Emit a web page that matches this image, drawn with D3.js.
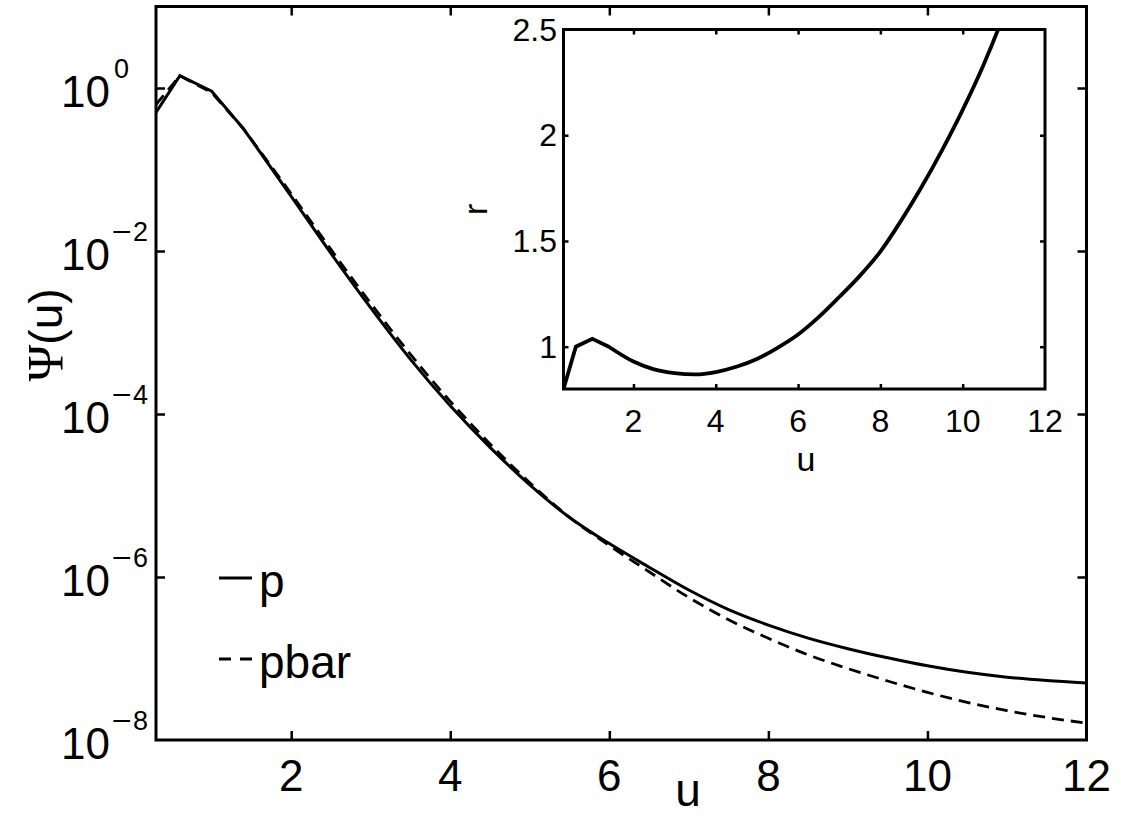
<!DOCTYPE html>
<html>
<head>
<meta charset="utf-8">
<script src="https://cdn.jsdelivr.net/npm/d3@7"></script>
<style>
  html, body { margin: 0; padding: 0; background: #fff; }
  svg { display: block; }
  text { font-family: "Liberation Sans", Arial, Helvetica, sans-serif; fill: #000; }
</style>
</head>
<body>
<svg id="chart" width="1121" height="823"></svg>
<script>
// ---- data ----
const uValues    = [0.3, 0.6, 1.0, 1.4, 2.0, 2.5, 3.0, 3.5, 4.0, 4.5, 5.0, 5.5, 6.0, 6.5, 7.0, 7.5, 8.0, 8.5, 9.0, 9.5, 10.0, 10.5, 11.0, 11.5, 12.0];
const pValues    = [0.501, 1.413, 0.912, 0.316, 0.0468, 9.33e-3, 2.00e-3, 4.68e-4, 1.26e-4, 3.89e-5, 1.35e-5, 5.37e-6, 2.57e-6, 1.32e-6, 6.92e-7, 3.98e-7, 2.57e-7, 1.78e-7, 1.32e-7, 1.02e-7, 8.13e-8, 6.76e-8, 5.89e-8, 5.37e-8, 5.01e-8];
const pbarValues = [0.627, 1.413, 0.879, 0.316, 0.0504, 1.045e-2, 2.28e-3, 5.38e-4, 1.43e-4, 4.30e-5, 1.43e-5, 5.40e-6, 2.43e-6, 1.16e-6, 5.60e-7, 2.99e-7, 1.77e-7, 1.11e-7, 7.52e-8, 5.30e-8, 3.84e-8, 2.90e-8, 2.29e-8, 1.89e-8, 1.61e-8];
const rValues    = [0.80, 1.00, 1.037, 1.00, 0.93, 0.893, 0.875, 0.869, 0.88, 0.905, 0.942, 0.995, 1.058, 1.14, 1.235, 1.335, 1.45, 1.595, 1.755, 1.93, 2.12, 2.33, 2.57, 2.84, 3.12];

const mainXTicks = [2, 4, 6, 8, 10, 12];
const mainYTickExps = [0, -2, -4, -6, -8];
const insetXTicks = [2, 4, 6, 8, 10, 12];
const insetYTicks = [1, 1.5, 2, 2.5];
const legendLabels = ["p", "pbar"];

// ---- layout ----
const svg = d3.select("#chart");
const M = { left: 156, right: 1086.5, top: 6.5, bottom: 740 };
const I = { left: 563.5, right: 1045, top: 29.5, bottom: 389 };

const x = d3.scaleLinear().domain([0.3, 12]).range([M.left, M.right]);
const y = d3.scaleLog().domain([1e-8, 10]).range([M.bottom, M.top]);
const xi = d3.scaleLinear().domain([0.3, 12]).range([I.left, I.right]);
const yi = d3.scaleLinear().domain([0.8, 2.5]).range([I.bottom, I.top]);

const defs = svg.append("defs");
defs.append("clipPath").attr("id", "clipMain").append("rect")
  .attr("x", M.left).attr("y", M.top).attr("width", M.right - M.left).attr("height", M.bottom - M.top);
defs.append("clipPath").attr("id", "clipInset").append("rect")
  .attr("x", I.left).attr("y", I.top).attr("width", I.right - I.left).attr("height", I.bottom - I.top);

const pData = uValues.map((u, i) => [u, pValues[i]]);
const pbarData = uValues.map((u, i) => [u, pbarValues[i]]);
const rData = uValues.map((u, i) => [u, rValues[i]]);

// first few samples are joined by straight segments, the smooth tail by a monotone curve
const SPLIT = 3;
function pathD(data, sx, sy) {
  const lin = d3.line().x(d => sx(d[0])).y(d => sy(d[1]));
  const smooth = d3.line().x(d => sx(d[0])).y(d => sy(d[1])).curve(d3.curveMonotoneX);
  const head = lin(data.slice(0, SPLIT + 1));
  const tail = smooth(data.slice(SPLIT));
  return head + "L" + tail.slice(1);
}

// ---- main axes ----
const gMain = svg.append("g");
const gLines = gMain.append("g").attr("clip-path", "url(#clipMain)");
gLines.append("path").attr("d", pathD(pbarData, x, y))
  .attr("fill", "none").attr("stroke", "#000").attr("stroke-width", 2.8)
  .attr("stroke-dasharray", "12,7");
gLines.append("path").attr("d", pathD(pData, x, y))
  .attr("fill", "none").attr("stroke", "#000").attr("stroke-width", 3)
  .attr("stroke-linejoin", "miter");

function styleAxis(g) {
  g.select(".domain").remove();
  g.selectAll(".tick line").attr("stroke", "#000").attr("stroke-width", 2.5);
  g.selectAll(".tick text").remove();
}
gMain.append("g").attr("transform", `translate(0,${M.bottom})`)
  .call(d3.axisBottom(x).tickValues(mainXTicks.slice(0, -1)).tickSizeInner(-9).tickSizeOuter(0)).call(styleAxis);
gMain.append("g").attr("transform", `translate(0,${M.top})`)
  .call(d3.axisTop(x).tickValues(mainXTicks.slice(0, -1)).tickSizeInner(-9).tickSizeOuter(0)).call(styleAxis);
const yTickVals = mainYTickExps.map(e => Math.pow(10, e));
gMain.append("g").attr("transform", `translate(${M.left},0)`)
  .call(d3.axisLeft(y).tickValues(yTickVals.slice(0, -1)).tickSizeInner(-9).tickSizeOuter(0)).call(styleAxis);
gMain.append("g").attr("transform", `translate(${M.right},0)`)
  .call(d3.axisRight(y).tickValues(yTickVals.slice(0, -1)).tickSizeInner(-9).tickSizeOuter(0)).call(styleAxis);

gMain.append("rect").attr("x", M.left).attr("y", M.top)
  .attr("width", M.right - M.left).attr("height", M.bottom - M.top)
  .attr("fill", "none").attr("stroke", "#000").attr("stroke-width", 3);

gMain.selectAll("text.xt").data(mainXTicks).join("text").attr("class", "xt")
  .attr("x", d => x(d)).attr("y", 791).attr("text-anchor", "middle")
  .attr("font-size", 44).text(d => d);

mainYTickExps.forEach(e => {
  const ty = y(Math.pow(10, e));
  gMain.append("text").attr("x", 110).attr("y", ty + 19).attr("text-anchor", "end")
    .attr("font-size", 44).text("10");
  if (e === 0) {
    gMain.append("text").attr("x", 114).attr("y", ty - 10).attr("font-size", 27).text("0");
  } else {
    gMain.append("text").attr("x", 112).attr("y", ty - 10).attr("font-size", 27)
      .attr("textLength", 20).attr("lengthAdjust", "spacingAndGlyphs").text("\u2212");
    gMain.append("text").attr("x", 133).attr("y", ty - 10).attr("font-size", 27).text(String(-e));
  }
});

gMain.append("text").attr("x", 688).attr("y", 806).attr("text-anchor", "middle")
  .attr("font-size", 46).text("u");
const yl = gMain.append("text").attr("transform", "translate(62,335) rotate(-90)")
  .attr("text-anchor", "middle").attr("font-size", 46);
yl.append("tspan").attr("font-family", "'Liberation Serif', 'DejaVu Serif', serif").attr("font-size", 50).text("\u03A8");
yl.append("tspan").text("(u)");

// legend
const legY = [578, 659];
const legG = gMain.append("g");
legG.append("line").attr("x1", 219).attr("x2", 252).attr("y1", legY[0]).attr("y2", legY[0])
  .attr("stroke", "#000").attr("stroke-width", 3);
legG.append("line").attr("x1", 219).attr("x2", 253).attr("y1", legY[1]).attr("y2", legY[1])
  .attr("stroke", "#000").attr("stroke-width", 3).attr("stroke-dasharray", "12,9");
legG.selectAll("text").data(legendLabels).join("text")
  .attr("x", 259).attr("y", (d, i) => legY[i] + 19).attr("font-size", 46).text(d => d);

// ---- inset ----
const gIn = svg.append("g");
gIn.append("rect").attr("x", I.left).attr("y", I.top)
  .attr("width", I.right - I.left).attr("height", I.bottom - I.top).attr("fill", "#fff");
gIn.append("g").attr("clip-path", "url(#clipInset)").append("path")
  .attr("d", pathD(rData, xi, yi)).attr("fill", "none").attr("stroke", "#000").attr("stroke-width", 3.8)
  .attr("stroke-linejoin", "miter");

gIn.append("g").attr("transform", `translate(0,${I.bottom})`)
  .call(d3.axisBottom(xi).tickValues(insetXTicks.slice(0, -1)).tickSizeInner(-5).tickSizeOuter(0)).call(styleAxis);
gIn.append("g").attr("transform", `translate(0,${I.top})`)
  .call(d3.axisTop(xi).tickValues(insetXTicks.slice(0, -1)).tickSizeInner(-5).tickSizeOuter(0)).call(styleAxis);
gIn.append("g").attr("transform", `translate(${I.left},0)`)
  .call(d3.axisLeft(yi).tickValues(insetYTicks.slice(0, -1)).tickSizeInner(-5).tickSizeOuter(0)).call(styleAxis);
gIn.append("g").attr("transform", `translate(${I.right},0)`)
  .call(d3.axisRight(yi).tickValues(insetYTicks.slice(0, -1)).tickSizeInner(-5).tickSizeOuter(0)).call(styleAxis);
gIn.append("rect").attr("x", I.left).attr("y", I.top)
  .attr("width", I.right - I.left).attr("height", I.bottom - I.top)
  .attr("fill", "none").attr("stroke", "#000").attr("stroke-width", 3);

gIn.selectAll("text.ixt").data(insetXTicks).join("text").attr("class", "ixt")
  .attr("x", d => xi(d)).attr("y", 432).attr("text-anchor", "middle")
  .attr("font-size", 32).text(d => d);
gIn.selectAll("text.iyt").data(insetYTicks).join("text").attr("class", "iyt")
  .attr("x", 557).attr("y", d => yi(d) + 11).attr("text-anchor", "end")
  .attr("font-size", 32).text(d => d);
gIn.append("text").attr("x", 806).attr("y", 471).attr("text-anchor", "middle")
  .attr("font-size", 34).text("u");
gIn.append("text").attr("transform", `translate(487,${(I.top + I.bottom) / 2}) rotate(-90)`)
  .attr("text-anchor", "middle").attr("font-size", 34).text("r");
</script>
</body>
</html>
